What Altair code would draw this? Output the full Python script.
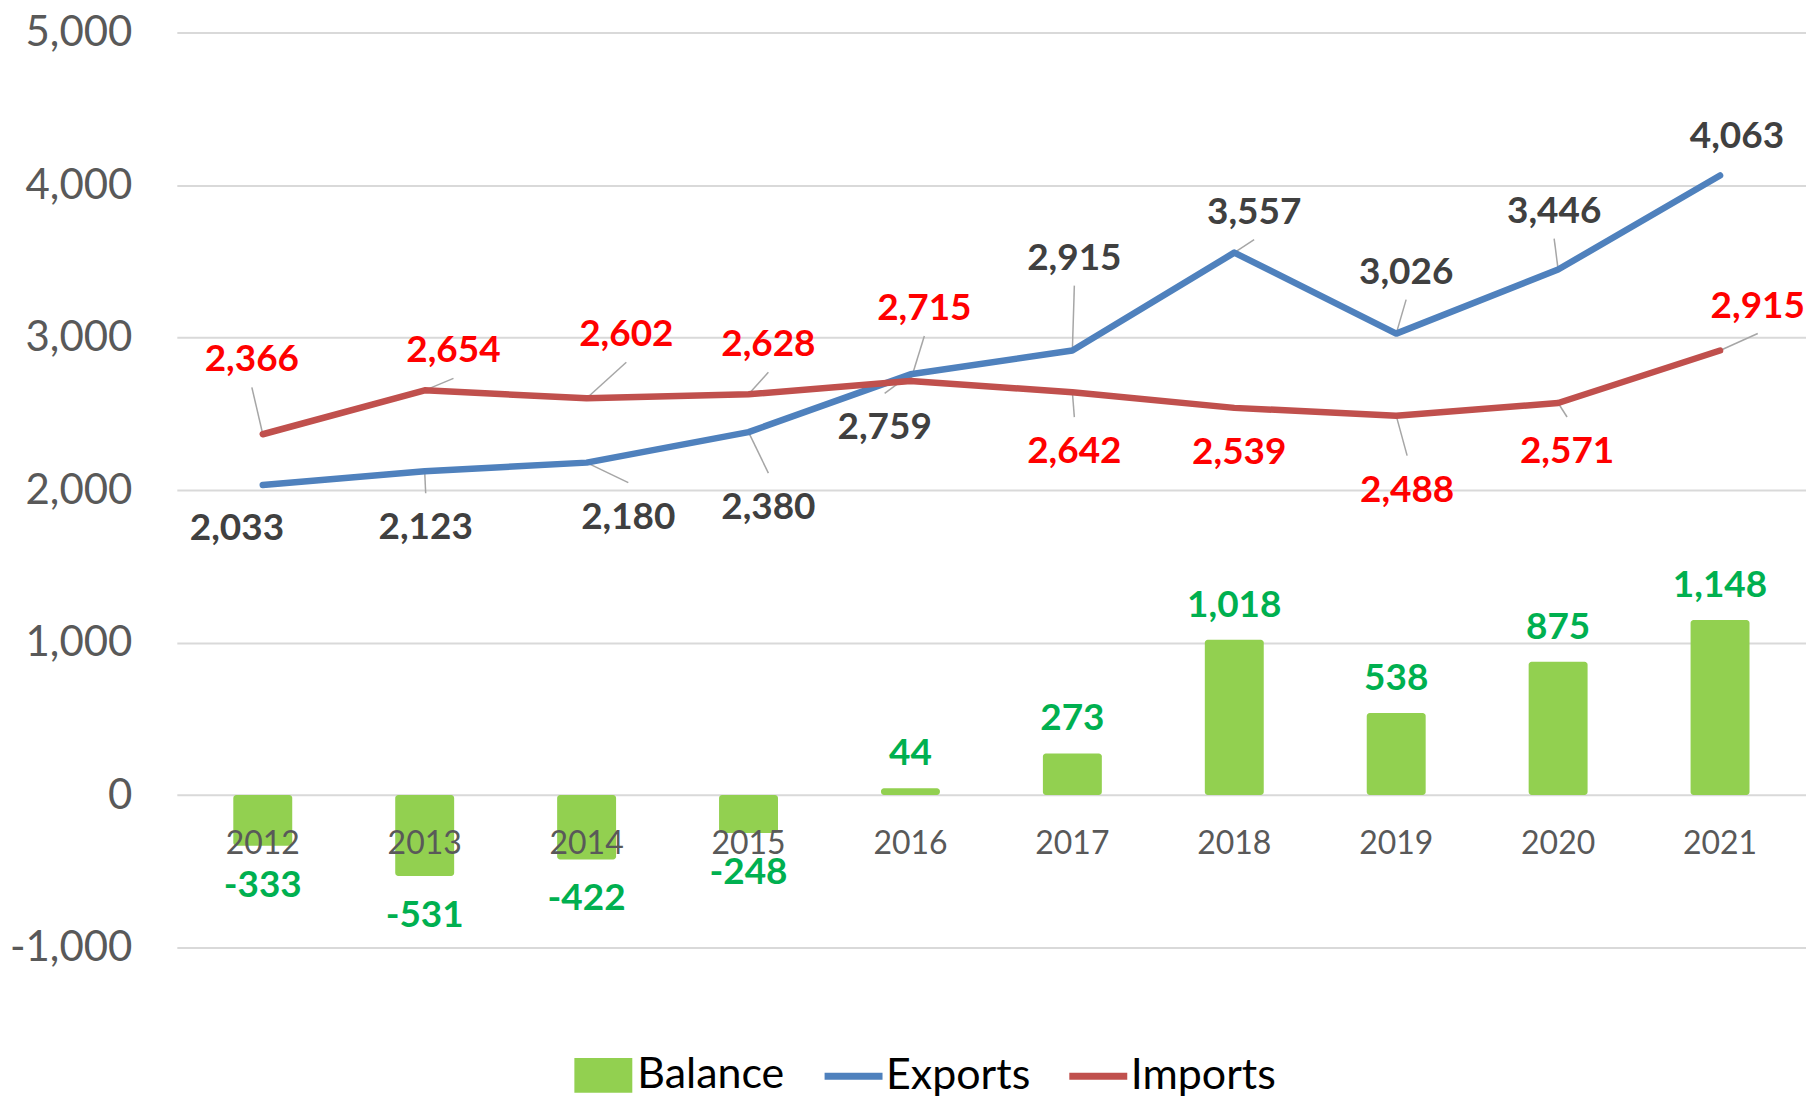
import altair as alt
import pandas as pd

# ---------------- data ----------------
years = [2012, 2013, 2014, 2015, 2016, 2017, 2018, 2019, 2020, 2021]
exports = [2033, 2123, 2180, 2380, 2759, 2915, 3557, 3026, 3446, 4063]
imports = [2366, 2654, 2602, 2628, 2715, 2642, 2539, 2488, 2571, 2915]
balance = [-333, -531, -422, -248, 44, 273, 1018, 538, 875, 1148]
bar_series = ["Balance"]
line_series = ["Exports", "Imports"]
y_ticks = [-1000, 0, 1000, 2000, 3000, 4000, 5000]

# label nudges in pixels (right, down) from each data point, as placed in the original
exports_dx = [-26, 1, 42, 20, -26, 2, 20, 10, -4, 17]
exports_dy = [42, 55, 53, 74, 52, -94, -42, -63, -60, -40]
imports_dx = [-11, 29, 40, 20, 14, 2, 5, 11, 9, 38]
imports_dy = [-76, -41, -65, -51, -74, 58, 43, 73, 47, -46]

# ---------------- layout / style ----------------
W, H = 1631, 916
Y_MIN, Y_MAX = -1000, 5000
X_MIN, X_MAX = 2011.5, 2021.5
px_year = W / (X_MAX - X_MIN)
px_unit = H / (Y_MAX - Y_MIN)
FONT = "Lato"
LABEL_FS = 37
bar_colors = ["#92D050"]
line_colors = ["#4F81BD", "#C0504D"]

x_scale = alt.Scale(domain=[X_MIN, X_MAX], nice=False, zero=False)
y_scale = alt.Scale(domain=[Y_MIN, Y_MAX], nice=False, zero=False)

bars_df = pd.DataFrame({"year": years, "value": balance, "series": "Balance"})
lines_df = pd.DataFrame({
    "year": years + years,
    "value": exports + imports,
    "series": ["Exports"] * len(years) + ["Imports"] * len(years),
})
years_df = pd.DataFrame({"year": years})


def label_frames(vals, dxs, dys):
    lab, lead = [], []
    for yr, v, dx, dy in zip(years, vals, dxs, dys):
        lab.append({"lx": yr + dx / px_year, "ly": v - (dy + 2) / px_unit, "value": v})
        end_dy = dy + 29 if dy < 0 else dy - 33
        if abs(end_dy) > 11.5:
            lead.append({"x": yr, "y": v, "x2": yr + dx / px_year, "y2": v - end_dy / px_unit})
    return pd.DataFrame(lab), pd.DataFrame(lead)


exp_lab, exp_lead = label_frames(exports, exports_dx, exports_dy)
imp_lab, imp_lead = label_frames(imports, imports_dx, imports_dy)
leaders_df = pd.concat([exp_lead, imp_lead], ignore_index=True)

label_expr = "(datum.value < 0 ? '-' : '') + format(abs(datum.value), ',')"

legend_common = dict(
    title=None,
    orient="none",
    direction="horizontal",
    labelFont=FONT,
    labelFontSize=43,
    labelColor="#000000",
    padding=0,
    symbolSize=3364,
    symbolOpacity=1,
)

bar_legend = alt.Legend(
    legendX=398, legendY=1015, symbolType="M-1,-0.6H1V0.6H-1Z", symbolStrokeWidth=0,
    labelOffset=5, columnPadding=38, **legend_common
)
line_legend = alt.Legend(
    legendX=645, legendY=1012, symbolType="stroke", symbolStrokeWidth=7,
    labelOffset=0, columnPadding=24, **legend_common
)

y_axis = alt.Axis(
    values=y_ticks,
    labelExpr=label_expr,
    grid=True,
    gridColor="#D9D9D9",
    gridWidth=2,
    domain=False,
    ticks=False,
    labelPadding=45,
    labelFont=FONT,
    labelFontSize=42,
    labelColor="#595959",
    title=None,
)

bars = alt.Chart(bars_df).mark_bar(size=59, cornerRadius=3, orient="vertical").transform_calculate(
    base="0"
).encode(
    x=alt.X("year:Q", scale=x_scale, axis=None),
    y=alt.Y("value:Q", scale=y_scale, axis=y_axis),
    y2="base:Q",
    fill=alt.Fill("series:N", scale=alt.Scale(domain=bar_series, range=bar_colors), legend=bar_legend),
)

lines = alt.Chart(lines_df).mark_line(strokeWidth=6.5, strokeCap="round", strokeJoin="round").encode(
    x=alt.X("year:Q", scale=x_scale, axis=None),
    y=alt.Y("value:Q", scale=y_scale),
    stroke=alt.Stroke("series:N", scale=alt.Scale(domain=line_series, range=line_colors), legend=line_legend),
    detail="series:N",
)

leaders = alt.Chart(leaders_df).mark_rule(color="#A6A6A6", strokeWidth=1.5).encode(
    x=alt.X("x:Q", scale=x_scale, axis=None),
    y=alt.Y("y:Q", scale=y_scale),
    x2="x2:Q",
    y2="y2:Q",
)


def text_layer(df, color):
    return alt.Chart(df).mark_text(
        font=FONT, fontSize=LABEL_FS, fontWeight="bold", color=color, baseline="middle", align="center"
    ).transform_calculate(lbl=label_expr).encode(
        x=alt.X("lx:Q", scale=x_scale, axis=None),
        y=alt.Y("ly:Q", scale=y_scale),
        text="lbl:N",
    )


exp_text = text_layer(exp_lab, "#404040")
imp_text = text_layer(imp_lab, "#FF0000")

bal_base = alt.Chart(bars_df).transform_calculate(lbl=label_expr).encode(
    x=alt.X("year:Q", scale=x_scale, axis=None),
    y=alt.Y("value:Q", scale=y_scale),
    text="lbl:N",
)
bal_pos = bal_base.transform_filter("datum.value >= 0").mark_text(
    font=FONT, fontSize=LABEL_FS, fontWeight="bold", color="#00B050", baseline="middle", dy=-34
)
bal_neg = bal_base.transform_filter("datum.value < 0").mark_text(
    font=FONT, fontSize=LABEL_FS, fontWeight="bold", color="#00B050", baseline="middle", dy=40
)

year_labels = alt.Chart(years_df).mark_text(
    font=FONT, fontSize=32, color="#595959", baseline="middle", dy=49
).encode(
    x=alt.X("year:Q", scale=x_scale, axis=None),
    y=alt.datum(0),
    text=alt.Text("year:Q", format="d"),
)

chart = alt.layer(
    bars, leaders, lines, year_labels, exp_text, imp_text, bal_pos, bal_neg
).resolve_scale(fill="independent", stroke="independent").properties(
    width=W,
    height=H,
    autosize=alt.AutoSizeParams(type="none"),
    padding={"left": 169, "top": 24, "right": 0, "bottom": 149},
).configure_view(stroke=None)

chart.save("out.html", embed_options={"renderer": "svg", "actions": False})
